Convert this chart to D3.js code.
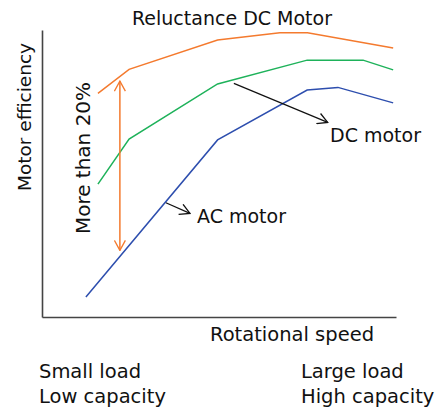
<!DOCTYPE html>
<html>
<head>
<meta charset="utf-8">
<script src="https://cdn.jsdelivr.net/npm/d3@7"></script>
<style>
  body { margin: 0; background: #fff; }
  text { font-family: "DejaVu Sans", sans-serif; fill: #111; }
</style>
</head>
<body>
<svg id="chart" width="438" height="410"></svg>
<script>
// speed (0-100) and efficiency (0-100)
var reluctanceSpeed = [15.8, 24.6, 49.6, 67.2, 75.0, 99.2];
var reluctanceEff   = [77.9, 86.3, 96.5, 99.0, 99.0, 93.7];
var dcSpeed = [15.8, 24.6, 49.6, 74.9, 90.7, 99.2];
var dcEff   = [46.3, 62.0, 81.2, 89.5, 89.5, 86.1];
var acSpeed = [12.4, 49.6, 74.9, 83.6, 99.2];
var acEff   = [7.0, 61.7, 79.1, 80.0, 74.6];

// "more than 20%" gap arrow, and the two label pointers
var gapArrow = [[22.0, 82.2], [22.0, 23.2]];
var dcPointer = [[54.2, 81.4], [80.7, 67.8]];
var acPointer = [[35.0, 39.8], [41.8, 36.1]];

var series = [
  {name: "Reluctance DC Motor", x: reluctanceSpeed, y: reluctanceEff, color: "#f47a2e"},
  {name: "DC motor", x: dcSpeed, y: dcEff, color: "#1eb25a"},
  {name: "AC motor", x: acSpeed, y: acEff, color: "#2d4eae"}
];

var svg = d3.select("#chart");

// plot box (don't call it "top", window.top is read only)
var plotL = 42, plotR = 396, plotT = 30, plotB = 317;

var x = d3.scaleLinear().domain([0, 100]).range([plotL, plotR]);
var y = d3.scaleLinear().domain([0, 100]).range([plotB, plotT]);

// axes: plain lines, no ticks
var xAxis = d3.axisBottom(x).tickValues([]).tickSizeOuter(0);
var yAxis = d3.axisLeft(y).tickValues([]).tickSizeOuter(0);

svg.append("g")
  .attr("transform", "translate(0," + plotB + ")")
  .call(xAxis)
  .select(".domain").attr("stroke", "#444").attr("stroke-width", 1.6);

svg.append("g")
  .attr("transform", "translate(" + plotL + ",0)")
  .call(yAxis)
  .select(".domain").attr("stroke", "#444").attr("stroke-width", 1.6);

// arrow heads
var defs = svg.append("defs");
function chevron(id, color) {
  defs.append("marker")
    .attr("id", id)
    .attr("viewBox", "0 0 12 12")
    .attr("refX", 11)
    .attr("refY", 6)
    .attr("markerWidth", 12)
    .attr("markerHeight", 12)
    .attr("markerUnits", "userSpaceOnUse")
    .attr("orient", "auto-start-reverse")
    .append("path")
    .attr("d", "M1,0.5 L11,6 L1,11.5")
    .attr("fill", "none")
    .attr("stroke", color)
    .attr("stroke-width", 1.3);
}
chevron("headOrange", "#f47a2e");
chevron("headBlack", "#111");

var line = d3.line()
  .x(function(d) { return x(d[0]); })
  .y(function(d) { return y(d[1]); });

svg.selectAll("path.series")
  .data(series)
  .enter().append("path")
  .attr("class", "series")
  .attr("fill", "none")
  .attr("stroke", function(d) { return d.color; })
  .attr("stroke-width", 1.5)
  .attr("d", function(d) {
    return line(d3.zip(d.x, d.y));
  });

// the gap arrow
svg.append("path")
  .attr("d", line(gapArrow))
  .attr("stroke", "#f47a2e")
  .attr("stroke-width", 1.5)
  .attr("fill", "none")
  .attr("marker-start", "url(#headOrange)")
  .attr("marker-end", "url(#headOrange)");

svg.append("path")
  .attr("d", line(dcPointer))
  .attr("stroke", "#111")
  .attr("stroke-width", 1.2)
  .attr("fill", "none")
  .attr("marker-end", "url(#headBlack)");

svg.append("path")
  .attr("d", line(acPointer))
  .attr("stroke", "#111")
  .attr("stroke-width", 1.2)
  .attr("fill", "none")
  .attr("marker-end", "url(#headBlack)");

// texts
svg.append("text")
  .attr("x", 232).attr("y", 25)
  .attr("text-anchor", "middle")
  .attr("font-size", 19)
  .text(series[0].name);

svg.append("text")
  .attr("x", 330).attr("y", 142)
  .attr("font-size", 19)
  .text(series[1].name);

svg.append("text")
  .attr("x", 197).attr("y", 223)
  .attr("font-size", 19)
  .text(series[2].name);

svg.append("text")
  .attr("transform", "translate(31,117) rotate(-90)")
  .attr("text-anchor", "middle")
  .attr("font-size", 18.5)
  .text("Motor efficiency");

svg.append("text")
  .attr("transform", "translate(90,158) rotate(-90)")
  .attr("text-anchor", "middle")
  .attr("font-size", 20)
  .text("More than 20%");

svg.append("text")
  .attr("x", 292).attr("y", 341)
  .attr("text-anchor", "middle")
  .attr("font-size", 19.5)
  .text("Rotational speed");

var bottomLeft = ["Small load", "Low capacity"];
var bottomRight = ["Large load", "High capacity"];

svg.selectAll("text.loadLeft")
  .data(bottomLeft)
  .enter().append("text")
  .attr("class", "loadLeft")
  .attr("x", 39)
  .attr("y", function(d, i) { return 378 + i * 25; })
  .attr("font-size", 19.5)
  .text(function(d) { return d; });

svg.selectAll("text.loadRight")
  .data(bottomRight)
  .enter().append("text")
  .attr("class", "loadRight")
  .attr("x", 301)
  .attr("y", function(d, i) { return 378 + i * 25; })
  .attr("font-size", 19.5)
  .text(function(d) { return d; });
</script>
</body>
</html>
